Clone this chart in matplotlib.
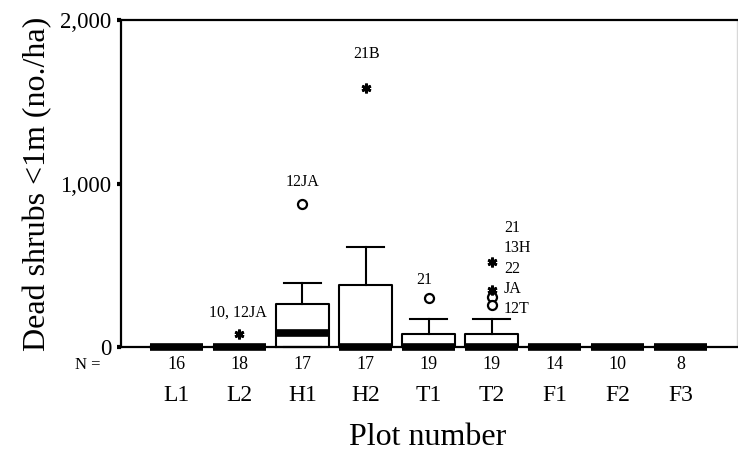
import matplotlib
matplotlib.use("Agg")
import matplotlib.pyplot as plt
import matplotlib.transforms as mtransforms

plt.rcParams['font.family'] = ['Liberation Serif', 'DejaVu Serif']

# plot groups and sample sizes
groups = ['L1', 'L2', 'H1', 'H2', 'T1', 'T2', 'F1', 'F2', 'F3']
n_obs = [16, 18, 17, 17, 19, 19, 14, 10, 8]

# box summary (no./ha)
q1 = [0, 0, 0, 0, 0, 0, 0, 0, 0]
median = [0, 0, 84, 0, 0, 0, 0, 0, 0]
q3 = [0, 0, 263, 379, 81, 78, 0, 0, 0]
whisk_hi = [0, 0, 390, 612, 173, 173, 0, 0, 0]

# outliers (circles) and extremes (asterisks): group index, value
circle_grp = [2, 4, 5, 5]
circle_val = [873, 302, 308, 257]
star_grp = [1, 3, 5, 5]
star_val = [78, 1584, 522, 349]

fig = plt.figure(figsize=(7.38, 4.63), dpi=100)
ax = fig.add_axes([0.164, 0.2505, 0.835, 0.706])

pos = list(range(1, len(groups) + 1))
stats = []
for i in range(len(groups)):
    stats.append({'med': median[i], 'q1': q1[i], 'q3': q3[i],
                  'whislo': q1[i], 'whishi': whisk_hi[i], 'fliers': []})

art = ax.bxp(stats, positions=pos, widths=0.84, capwidths=0.59,
             showfliers=False, patch_artist=False,
             boxprops=dict(color='black', linewidth=1.5),
             whiskerprops=dict(color='black', linewidth=1.5),
             capprops=dict(color='black', linewidth=1.5),
             medianprops=dict(color='black', linewidth=5.5, solid_capstyle='butt'))
for key in art:
    for a in art[key]:
        a.set_clip_on(False)

ax.plot([pos[g] for g in circle_grp], circle_val, 'o', ms=6.5, mfc='white',
        mec='black', mew=1.6, ls='none', clip_on=False)
ax.plot([pos[g] for g in star_grp], star_val, ls='none', marker=(6, 2, 0),
        ms=7, mec='black', mew=2, clip_on=False)

ann = dict(fontsize=11.5, ha='center', va='bottom', textcoords='offset points')
ax.annotate('12JA', (pos[2], circle_val[0]), xytext=(0, 10), **ann)
ax.annotate('21', (pos[4], circle_val[1]), xytext=(-3, 7), **ann)
ax.annotate('10, 12JA', (pos[1], star_val[0]), xytext=(-1, 10), **ann)
ax.annotate('21B', (pos[3], star_val[1]), xytext=(1, 19), **ann)
ax.annotate('21\n13H\n22\nJA\n12T', (pos[5], star_val[2]), xytext=(9, 30),
            fontsize=11.5, ha='left', va='top', textcoords='offset points',
            linespacing=1.36)

ax.set_xlim(0.12, 9.9)
ax.set_ylim(0, 2000)
ax.set_yticks([0, 1000, 2000], ['0', '1,000', '2,000'])
ax.set_xticks(pos, groups)
ax.tick_params(axis='y', direction='out', length=3, width=3, pad=4, labelsize=16.5)
ax.tick_params(axis='x', length=0, pad=27, labelsize=17)

tr = mtransforms.blended_transform_factory(ax.transData, ax.transAxes)
for p, n in zip(pos, n_obs):
    ax.text(p, -0.055, str(n), transform=tr, ha='center', va='center', fontsize=13)
ax.text(-0.054, -0.055, 'N =', transform=ax.transAxes, ha='center', va='center', fontsize=12)

ax.set_ylabel('Dead shrubs <1m (no./ha)', fontsize=23, labelpad=6)
ax.text(0.498, -0.278, 'Plot number', transform=ax.transAxes, ha='center',
        va='center', fontsize=23)

for s in ['left', 'top', 'bottom']:
    ax.spines[s].set_color('black')
    ax.spines[s].set_linewidth(1.6)
ax.spines['right'].set_color('#d8d8d8')
ax.spines['right'].set_linewidth(1)

fig.savefig('out.png', dpi=100, facecolor='white')
